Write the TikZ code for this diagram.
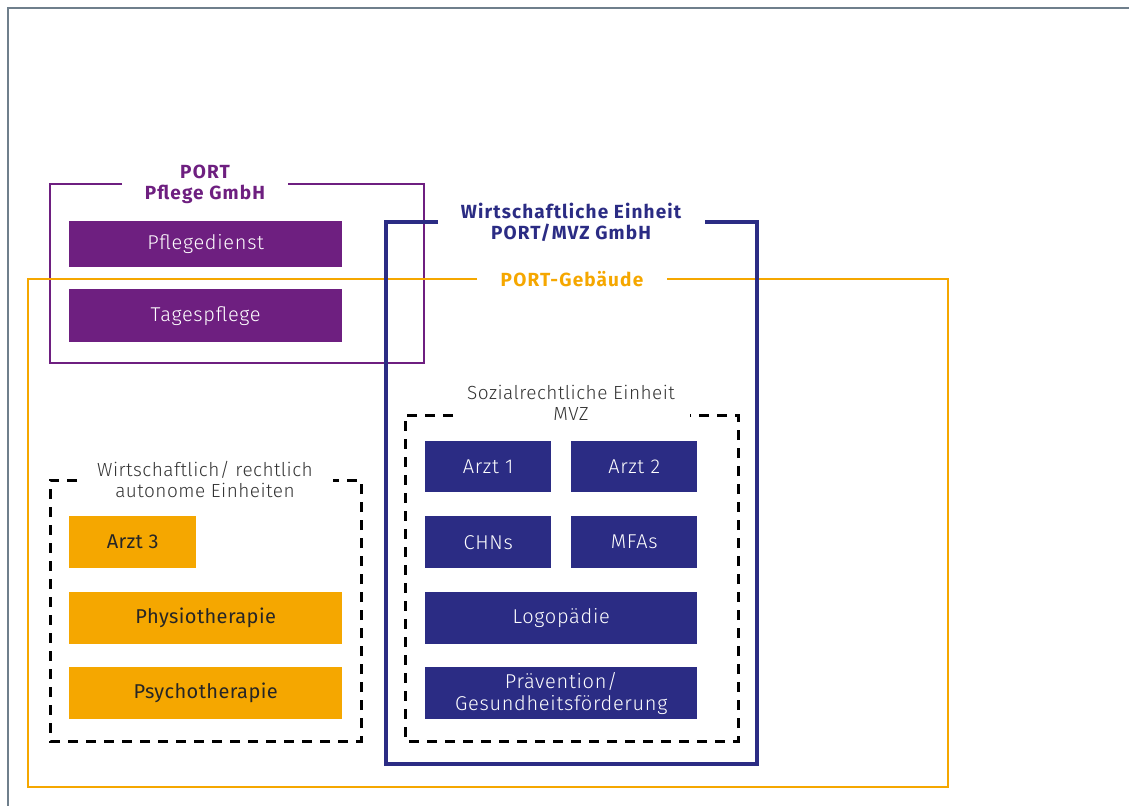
\documentclass[tikz,border=0pt]{standalone}
\usepackage{fontspec}
\setmainfont{Fira Sans}
\newfontfamily\boxfont[LetterSpace=3.5]{Fira Sans Light}
\newfontfamily\subfont[LetterSpace=2.5]{Fira Sans Light}
\newfontfamily\ttlfont[LetterSpace=6]{Fira Sans}
\newfontfamily\obfont[LetterSpace=2]{Fira Sans}
\definecolor{ppurple}{HTML}{6E1F80}
\definecolor{pnavy}{HTML}{2B2C84}
\definecolor{porange}{HTML}{F5A700}
\definecolor{pgrey}{HTML}{6F7F8C}
\tikzset{
  box/.style={anchor=north west, inner sep=0pt, font=\boxfont\fontsize{20}{22}\selectfont, align=center},
  pbox/.style={box, fill=ppurple, text=white},
  nbox/.style={box, fill=pnavy, text=white},
  obox/.style={box, fill=porange, text=black!85, font=\obfont\fontsize{20}{22}\selectfont},
  ttl/.style={align=center, font=\ttlfont\bfseries\fontsize{19}{21}\selectfont, inner sep=0pt},
  sub/.style={align=center, text=black!80, font=\subfont\fontsize{19}{21}\selectfont, inner sep=0pt},
  dframe/.style={draw=black, line width=3pt, dash pattern=on 10pt off 8pt, line join=miter},
  frame/.style={line join=miter},
}
\begin{document}
\begin{tikzpicture}[x=1pt,y=-1pt]
\useasboundingbox (0,0) rectangle (1129,806);
% outer grey frame
\draw[pgrey, line width=2pt] (1129,8) -- (8,8) -- (8,806);
% purple frame
\draw[frame, ppurple, line width=2pt] (122,184) -- (50,184) -- (50,363) -- (424,363) -- (424,184) -- (288,184);
\node[ttl, text=ppurple] (tpflege) at (205,184) {PORT\\Pflege GmbH};
% orange frame
\draw[frame, porange, line width=2.5pt] (477,279) -- (28,279) -- (28,787) -- (948,787) -- (948,279) -- (667,279);
\node[ttl, text=porange] (tgeb) at (572,279) {PORT-Gebäude};
% navy frame
\draw[frame, pnavy, line width=4pt] (438,222) -- (386,222) -- (386,764) -- (757,764) -- (757,222) -- (705,222);
\node[ttl, text=pnavy] (twe) at (571,222) {Wirtschaftliche Einheit\\PORT/MVZ GmbH};
% MVZ dashed
\draw[dframe] (453,415) -- (405,415) -- (405,741) -- (738,741) -- (738,415) -- (690,415);
\node[sub] (tmvz) at (571,403) {Sozialrechtliche Einheit\\MVZ};
% autonomous dashed
\draw[dframe] (77,480) -- (50,480) -- (50,741) -- (361,741) -- (361,480) -- (333,480);
\node[sub] (tauto) at (205,479) {Wirtschaftlich/ rechtlich\\autonome Einheiten};
% purple boxes
\node[pbox, minimum width=273pt, minimum height=46pt] (pd) at (69,221) {Pflegedienst};
\node[pbox, minimum width=273pt, minimum height=53pt] (tp) at (69,289) {Tagespflege};
% navy boxes
\node[nbox, minimum width=126pt, minimum height=51pt] (a1) at (425,441) {Arzt 1};
\node[nbox, minimum width=126pt, minimum height=51pt] (a2) at (571,441) {Arzt 2};
\node[nbox, minimum width=126pt, minimum height=52pt] (chn) at (425,516) {CHNs};
\node[nbox, minimum width=126pt, minimum height=52pt] (mfa) at (571,516) {MFAs};
\node[nbox, minimum width=272pt, minimum height=52pt] (logo) at (425,592) {Logopädie};
\node[nbox, minimum width=272pt, minimum height=52pt] (prae) at (425,667) {Prävention/\\Gesundheitsförderung};
% orange boxes
\node[obox, minimum width=127pt, minimum height=52pt] (a3) at (69,516) {Arzt 3};
\node[obox, minimum width=273pt, minimum height=52pt] (phys) at (69,592) {Physiotherapie};
\node[obox, minimum width=273pt, minimum height=52pt] (psy) at (69,667) {Psychotherapie};
\end{tikzpicture}
\end{document}
